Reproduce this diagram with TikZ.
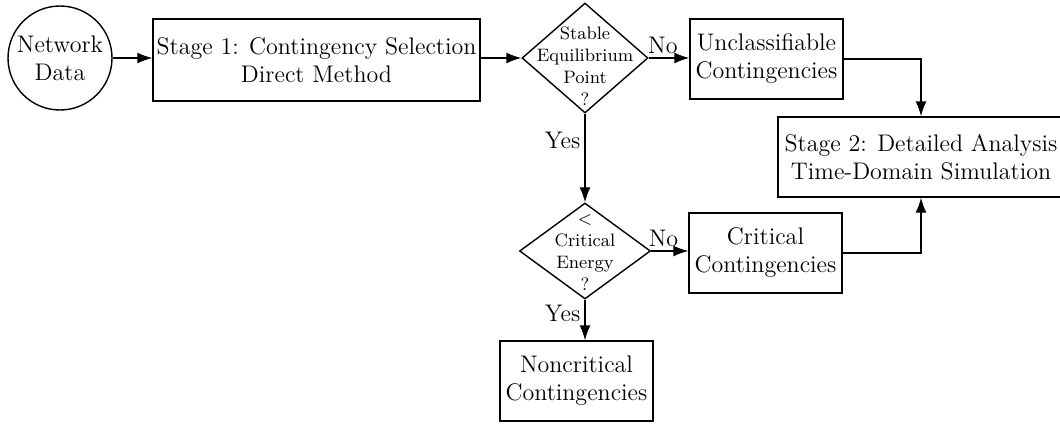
\documentclass[tikz,border=0pt]{standalone}
\usepackage{amsmath}
\usetikzlibrary{positioning, arrows.meta, shapes.geometric}

\begin{document}
\begin{tikzpicture}[x=0.5pt, y=-0.5pt, line width=0.7pt, >={Latex[length=7.5pt, width=5.5pt]},
    block/.style={draw, rectangle, align=center, font=\large, inner sep=0pt},
    decision/.style={draw, diamond, inner sep=0pt},
    dtext/.style={align=center, font=\small, inner sep=0pt},
    lbl/.style={font=\large, inner sep=2pt}]

    \useasboundingbox (0,0) rectangle (1060,423);

    % --- 节点中心 (按原图像素估算) ---
    \coordinate (ND_c) at (60, 58);
    \coordinate (S1_c) at (316.5, 60);
    \coordinate (SEP_c) at (585, 58);
    \coordinate (UC_c) at (766.5, 59);
    \coordinate (S2_c) at (921, 157);
    \coordinate (CE_c) at (585, 251);
    \coordinate (CC_c) at (765.5, 253);
    \coordinate (NC_c) at (576.5, 381);

    % --- 节点 ---
    \node[draw, circle, minimum size=52pt, align=center, font=\large, inner sep=0pt] (NetData) at (ND_c) {Network\\Data};
    \node[block, minimum width=163.5pt, minimum height=41pt] (Stage1) at (S1_c) {Stage 1: Contingency Selection\\Direct Method};
    \node[decision, minimum width=63pt, minimum height=55pt,
          label={[dtext, yshift=-4pt]center:Stable\\Equilibrium\\Point\\?}] (SEP) at (SEP_c) {};
    \node[block, minimum width=76.5pt, minimum height=40pt] (Unclass) at (UC_c) {Unclassifiable\\Contingencies};
    \node[block, minimum width=143pt, minimum height=40pt] (Stage2) at (S2_c) {Stage 2: Detailed Analysis\\Time-Domain Simulation};
    \node[decision, minimum width=65.5pt, minimum height=48pt,
          label={[dtext, yshift=-1pt]center:$<$\\Critical\\Energy\\?}] (CE) at (CE_c) {};
    \node[block, minimum width=76.5pt, minimum height=40pt] (Crit) at (CC_c) {Critical\\Contingencies};
    \node[block, minimum width=76.5pt, minimum height=40pt] (NonCrit) at (NC_c) {Noncritical\\Contingencies};

    % --- 连线 ---
    \draw[->] (NetData.east) -- (NetData.east -| Stage1.west);
    \draw[->] (Stage1.east |- SEP.west) -- (SEP.west);
    \draw[->] (SEP.east) -- node[lbl, above, pos=0.35] {No} (SEP.east -| Unclass.west);
    \draw[->] (SEP) -- node[lbl, left, pos=0.3] {Yes} (CE);
    \draw[->] (CE.east) -- node[lbl, above, pos=0.33] {No} (CE.east -| Crit.west);
    \draw[->] (CE.south) -- node[lbl, left, pos=0.35] {Yes} (CE.south |- NonCrit.north);
    \draw[->] (Unclass.east) -| (Stage2.north);
    \draw[->] (Crit.east) -| (Stage2.south);

\end{tikzpicture}
\end{document}
